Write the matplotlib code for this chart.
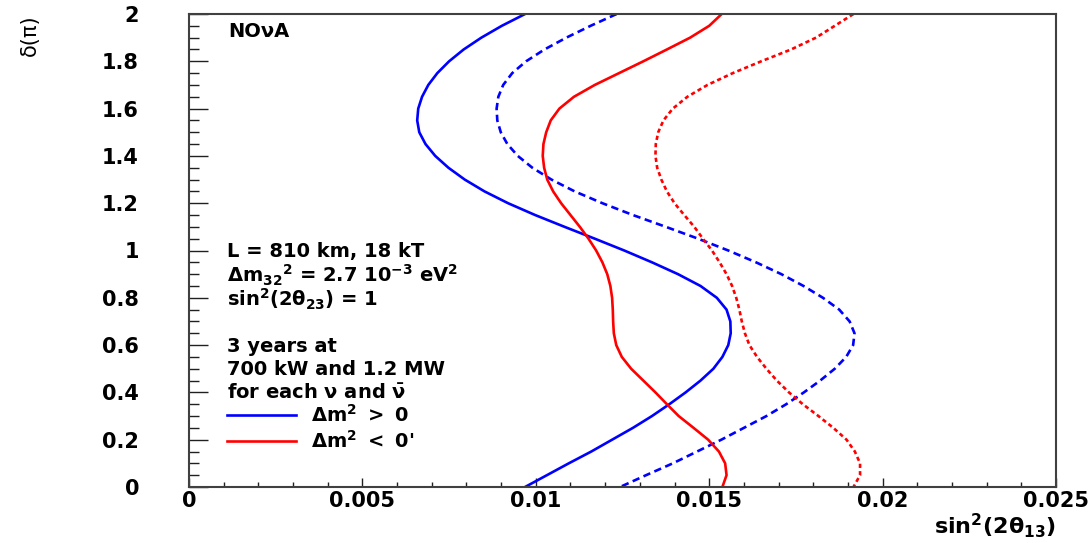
import matplotlib
matplotlib.use("Agg")
import matplotlib.pyplot as plt
from matplotlib.ticker import MultipleLocator, FixedLocator, FixedFormatter

# ---- data ----
delta = [2.0, 1.95, 1.9, 1.85, 1.8, 1.75, 1.7, 1.65, 1.6, 1.55, 1.5, 1.45, 1.4,
         1.35, 1.3, 1.25, 1.2, 1.15, 1.1, 1.05, 1.0, 0.95, 0.9, 0.85, 0.8, 0.75,
         0.7, 0.65, 0.6, 0.55, 0.5, 0.45, 0.4, 0.35, 0.3, 0.25, 0.2, 0.15, 0.1,
         0.05, 0.0]

blue_solid = [0.00969, 0.00902, 0.00843, 0.00792, 0.00750, 0.00716, 0.00690,
              0.00672, 0.00661, 0.00658, 0.00664, 0.00682, 0.00710, 0.00748,
              0.00795, 0.00852, 0.00920, 0.00998, 0.01083, 0.01170, 0.01255,
              0.01335, 0.01410, 0.01475, 0.01522, 0.01550, 0.01561, 0.01562,
              0.01555, 0.01538, 0.01512, 0.01475, 0.01432, 0.01385, 0.01335,
              0.01280, 0.01220, 0.01160, 0.01095, 0.01032, 0.00969]

blue_dashed = [0.01233, 0.01158, 0.01088, 0.01025, 0.00972, 0.00932, 0.00906,
               0.00892, 0.00887, 0.00889, 0.00899, 0.00918, 0.00948, 0.00990,
               0.01045, 0.01112, 0.01192, 0.01280, 0.01375, 0.01468, 0.01555,
               0.01635, 0.01708, 0.01772, 0.01828, 0.01875, 0.01905, 0.01919,
               0.01915, 0.01895, 0.01862, 0.01820, 0.01773, 0.01722, 0.01665,
               0.01600, 0.01535, 0.01465, 0.01395, 0.01318, 0.01243]

red_solid = [0.01536, 0.01500, 0.01445, 0.01378, 0.01310, 0.01240, 0.01170,
             0.01110, 0.01068, 0.01043, 0.01030, 0.01022, 0.01020, 0.01024,
             0.01033, 0.01050, 0.01073, 0.01100, 0.01127, 0.01152, 0.01174,
             0.01192, 0.01206, 0.01215, 0.01220, 0.01222, 0.01223, 0.01225,
             0.01232, 0.01248, 0.01275, 0.01310, 0.01345, 0.01378, 0.01412,
             0.01455, 0.01497, 0.01528, 0.01546, 0.01550, 0.01538]

red_dashed = [0.01916, 0.01862, 0.01808, 0.01736, 0.01650, 0.01568, 0.01495,
              0.01437, 0.01395, 0.01368, 0.01353, 0.01346, 0.01345, 0.01350,
              0.01362, 0.01378, 0.01400, 0.01428, 0.01457, 0.01482, 0.01508,
              0.01530, 0.01550, 0.01566, 0.01578, 0.01587, 0.01594, 0.01603,
              0.01616, 0.01638, 0.01665, 0.01695, 0.01730, 0.01770, 0.01815,
              0.01858, 0.01896, 0.01920, 0.01935, 0.01935, 0.01916]

x_ticks = [0, 0.005, 0.01, 0.015, 0.02, 0.025]
x_tick_labels = ["0", "0.005", "0.01", "0.015", "0.02", "0.025"]
y_ticks = [0, 0.2, 0.4, 0.6, 0.8, 1.0, 1.2, 1.4, 1.6, 1.8, 2.0]
y_tick_labels = ["0", "0.2", "0.4", "0.6", "0.8", "1", "1.2", "1.4", "1.6", "1.8", "2"]

info_lines = ["L = 810 km, 18 kT",
              r"$\Delta$m$_{32}$$^{2}$ = 2.7 10$^{-3}$ eV$^{2}$",
              r"sin$^{2}$(2$\theta_{23}$) = 1",
              "",
              "3 years at",
              "700 kW and 1.2 MW",
              r"for each $\nu$ and $\bar{\nu}$"]
legend_labels = [r"$\Delta$m$^{2}$ $>$ 0", r"$\Delta$m$^{2}$ $<$ 0'"]

# ---- style ----
plt.rcParams['font.family'] = ['DejaVu Sans']
plt.rcParams['font.weight'] = 'bold'
plt.rcParams['mathtext.fontset'] = 'custom'
plt.rcParams['mathtext.rm'] = 'DejaVu Sans:bold'
plt.rcParams['mathtext.it'] = 'DejaVu Sans:bold'
plt.rcParams['mathtext.bf'] = 'DejaVu Sans:bold'
plt.rcParams['mathtext.sf'] = 'DejaVu Sans:bold'

fig = plt.figure(figsize=(10.92, 5.43), dpi=100)
ax = fig.add_axes([189/1092, 1-487/543, (1056-189)/1092, (487-14)/543])

lw = 1.9
l1, = ax.plot(blue_solid, delta, color='#0000ff', lw=lw)
ax.plot(blue_dashed, delta, color='#0000ff', lw=lw, dashes=(2.8, 1.7))
l2, = ax.plot(red_solid, delta, color='#ff0000', lw=lw)
ax.plot(red_dashed, delta, color='#ff0000', lw=lw, dashes=(1.6, 1.2))

ax.set_xlim(0, 0.025)
ax.set_ylim(0, 2)

for s in ax.spines.values():
    s.set_color('#404040')
    s.set_linewidth(1.5)

ax.xaxis.set_major_locator(FixedLocator(x_ticks))
ax.xaxis.set_major_formatter(FixedFormatter(x_tick_labels))
ax.yaxis.set_major_locator(FixedLocator(y_ticks))
ax.yaxis.set_major_formatter(FixedFormatter(y_tick_labels))
ax.xaxis.set_minor_locator(MultipleLocator(0.001))
ax.yaxis.set_minor_locator(MultipleLocator(0.05))

ax.tick_params(axis='both', which='both', direction='in', top=False, right=False,
               colors='#202020', width=1.0)
ax.tick_params(axis='y', which='major', length=13.5, pad=36, labelsize=15)
ax.tick_params(axis='y', which='minor', length=7)
ax.tick_params(axis='x', which='major', length=6.5, pad=3, labelsize=15)
ax.tick_params(axis='x', which='minor', length=3.6)
for lab in ax.get_xticklabels() + ax.get_yticklabels():
    lab.set_fontweight('bold')
    lab.set_color('black')

# axis titles
ax.set_xlabel(r"sin$^{2}$(2$\theta_{13}$)", fontsize=16, fontweight='bold', loc='right')
ax.xaxis.set_label_coords(1.0, -0.052)
fig.text(30/1092, 1-14/543, "δ(π)", rotation=90, ha='center', va='top',
         fontsize=15, fontweight='normal')

# annotations
ax.text(0.045, 0.962, "NOνA", transform=ax.transAxes, fontsize=14,
        fontweight='bold', va='center', ha='left')
y0 = 252
for i, line in enumerate(info_lines):
    if line:
        ax.text(0.0438, (487 - (y0 + i*23.5))/473, line, transform=ax.transAxes,
                fontsize=14, fontweight='bold', va='center', ha='left')

leg = ax.legend([l1, l2], legend_labels, loc='upper left',
                bbox_to_anchor=(0.0438, (487-404)/473), frameon=False,
                borderaxespad=0, borderpad=0, handlelength=3.55,
                handletextpad=0.75, labelspacing=0.2,
                prop={'size': 14, 'weight': 'bold'})

fig.savefig("out.png", dpi=100)
